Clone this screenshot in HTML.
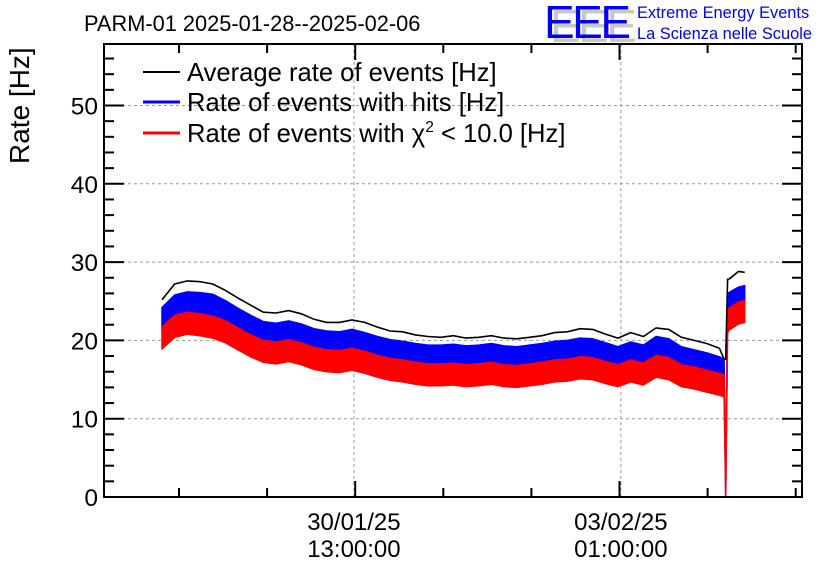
<!DOCTYPE html>
<html><head><meta charset="utf-8"><style>
body{margin:0;background:#fff}
svg{display:block;font-family:"Liberation Sans",sans-serif}
</style></head><body>
<svg id="chart" width="836" height="572" viewBox="0 0 836 572" xmlns="http://www.w3.org/2000/svg">
<rect width="836" height="572" fill="#fff"/>
<text x="84" y="31" font-size="21.8">PARM-01 2025-01-28--2025-02-06</text>
<g>
<text x="550" y="42" font-size="46" fill="#c8c8c8" letter-spacing="-3" textLength="84">EEE</text>
<text x="544" y="38" font-size="46" fill="#0000ff" letter-spacing="-3" textLength="84">EEE</text>
<text x="637" y="18" font-size="16.4" fill="#0000ff">Extreme Energy Events</text>
<text x="637" y="39" font-size="16.4" fill="#0000ff">La Scienza nelle Scuole</text>
</g>
<text transform="translate(29,164) rotate(-90)" font-size="28">Rate [Hz]</text>
<g id="grid"></g>
<g id="series"></g>
<g id="axes"></g>
<g>
<g><line x1="143" y1="72" x2="180" y2="72" stroke="#000" stroke-width="2"/><text x="187" y="81" font-size="25.6">Average rate of events [Hz]</text></g>
<g><line x1="143" y1="102" x2="180" y2="102" stroke="#00f" stroke-width="3"/><text x="187" y="111" font-size="25.6">Rate of events with hits [Hz]</text></g>
<g><line x1="143" y1="133" x2="180" y2="133" stroke="#f00" stroke-width="3"/><text x="187" y="142" font-size="25.6">Rate of events with χ<tspan dy="-10" font-size="15.5">2</tspan><tspan dy="10"> &lt; 10.0 [Hz]</tspan></text></g>
</g>
</svg>
<script>
const hours=[0,4,8,12,16,20,24,28,32,36,40,44,48,52,56,60,64,68,72,76,80,84,88,92,96,100,104,108,112,116,120,124,128,132,136,140,144,148,152,156,160,164,168,172,176,177.5,178,178.6,179,182,184];
const avgRate=[25.2,27.2,27.6,27.5,27.2,26.4,25.4,24.5,23.6,23.5,23.8,23.4,22.7,22.3,22.3,22.6,22.3,21.7,21.2,21.1,20.7,20.5,20.4,20.6,20.3,20.4,20.6,20.3,20.2,20.4,20.6,21.0,21.1,21.5,21.4,20.8,20.3,21.0,20.5,21.6,21.4,20.4,20.0,19.6,19.0,17.6,17.6,27.8,27.8,28.8,28.7];
const hitsRate=[22.8,24.4,24.8,24.7,24.5,23.7,22.7,21.8,21.0,20.8,21.1,20.7,20.1,19.8,19.7,20.0,19.6,19.1,18.7,18.5,18.2,18.0,18.0,18.1,17.9,18.0,18.2,17.9,17.8,18.0,18.2,18.5,18.6,18.9,18.8,18.3,17.8,18.4,18.0,19.1,18.8,17.8,17.4,17.0,16.5,16.2,0,24.4,24.7,25.4,25.6];
const chi2Rate=[20.3,21.8,22.2,22.0,21.7,21.1,20.2,19.3,18.6,18.4,18.7,18.3,17.7,17.4,17.3,17.6,17.2,16.7,16.3,16.1,15.8,15.6,15.6,15.7,15.5,15.6,15.8,15.5,15.4,15.6,15.8,16.1,16.2,16.5,16.4,15.9,15.5,16.1,15.7,16.7,16.4,15.5,15.2,14.8,14.4,14.2,0,22.3,22.7,23.5,23.7];
const yTicks=[0,10,20,30,40,50];
const xTickLabels=[["30/01/25","13:00:00"],["03/02/25","01:00:00"]];
const xTickHours=[60.6,144.9];
const NS="http://www.w3.org/2000/svg";
const X0=104,X1=802,Y0=497,Y1=44;
const sx=h=>162+h*3.167;
const sy=v=>Y0-v*7.83;
function mk(tag,attrs,parent){const e=document.createElementNS(NS,tag);for(const k in attrs)e.setAttribute(k,attrs[k]);parent.appendChild(e);return e;}
const grid=document.getElementById('grid'),axes=document.getElementById('axes'),ser=document.getElementById('series');
yTicks.forEach(v=>{if(v>0){const l=mk('line',{x1:X0,x2:X1,y1:sy(v),y2:sy(v),stroke:'#999','stroke-dasharray':'3,3'},grid);

}});
xTickHours.forEach(h=>{const l=mk('line',{x1:sx(h),x2:sx(h),y1:Y1,y2:Y0,stroke:'#999','stroke-dasharray':'3,3'},grid);

});
function band(vals,hw,color,name){
  let top='',bot='';
  hours.forEach((h,i)=>{top+=(i?'L':'M')+sx(h).toFixed(1)+','+sy(vals[i]+(vals[i]>0?hw:0)).toFixed(1);});
  for(let i=hours.length-1;i>=0;i--){bot+='L'+sx(hours[i]).toFixed(1)+','+sy(Math.max(0,vals[i]-hw)).toFixed(1);}
  const p=mk('path',{d:top+bot+'Z',fill:color,stroke:color,'stroke-width':1.5,'stroke-linejoin':'round'},ser);
  
  
}
band(hitsRate,1.4,'#00f','hits-rate-band');
band(chi2Rate,1.4,'#f00','chi2-rate-band');
let d='';hours.forEach((h,i)=>{d+=(i?'L':'M')+sx(h).toFixed(1)+','+sy(avgRate[i]).toFixed(1);});
const al=mk('path',{d:d,fill:'none',stroke:'#000','stroke-width':1.6},ser);


const fr=mk('rect',{x:X0,y:Y1,width:X1-X0,height:Y0-Y1,fill:'none',stroke:'#000','stroke-width':2},axes);


for(let v=0;v<=56;v+=2){const maj=v%10===0,len=maj?20:10;
 mk('line',{x1:X0,x2:X0+len,y1:sy(v),y2:sy(v),stroke:'#000','stroke-width':2},axes);
 mk('line',{x1:X1,x2:X1-len,y1:sy(v),y2:sy(v),stroke:'#000','stroke-width':2},axes);}
yTicks.forEach(v=>{const t=mk('text',{x:98,y:sy(v)+9,'font-size':24.5,'text-anchor':'end'},axes);t.textContent=v;

});
for(let x=179;x<X1;x+=88.1){const maj=Math.abs(x-355)<3||Math.abs(x-619.5)<3,len=maj?16:9;
 mk('line',{x1:x,x2:x,y1:Y0,y2:Y0-len,stroke:'#000','stroke-width':2},axes);
 mk('line',{x1:x,x2:x,y1:Y1,y2:Y1+len,stroke:'#000','stroke-width':2},axes);}
xTickHours.forEach((h,i)=>{[0,1].forEach(j=>{const t=mk('text',{x:sx(h),y:530+j*27,'font-size':24,'text-anchor':'middle'},axes);t.textContent=xTickLabels[i][j];

});});
</script>
</body></html>
